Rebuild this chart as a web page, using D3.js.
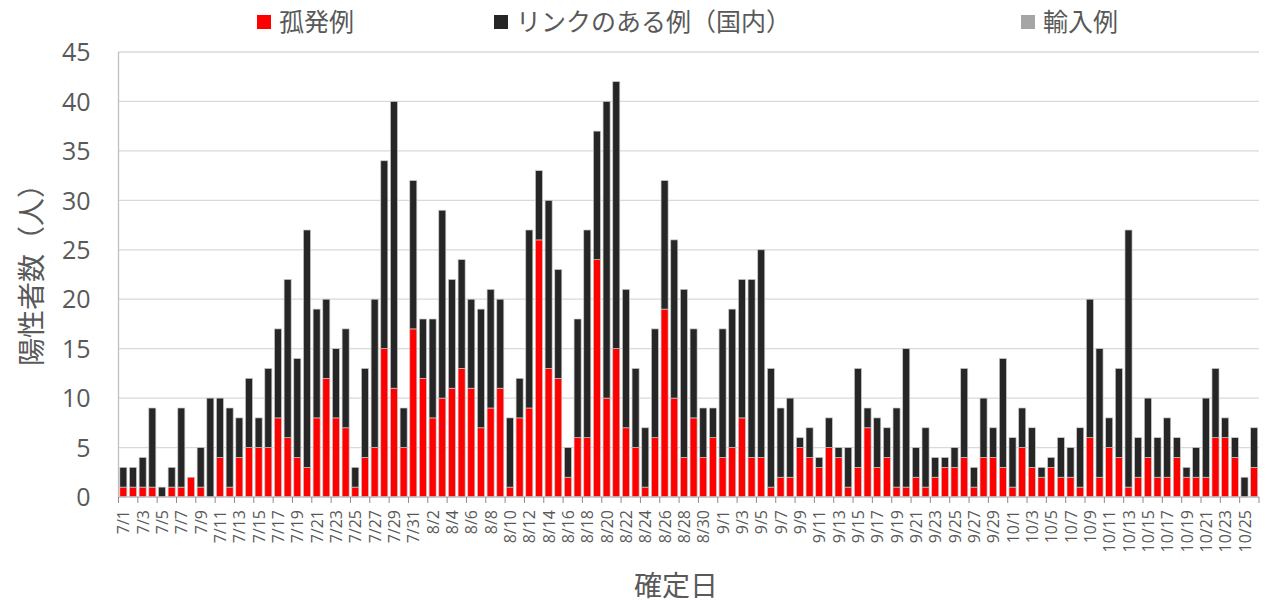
<!DOCTYPE html>
<html><head><meta charset="utf-8">
<script src="https://cdn.jsdelivr.net/npm/d3@7"></script>
<style>
html,body{margin:0;padding:0;background:#fff;}
svg{display:block;}
text{font-family:"Noto Sans CJK JP","Noto Sans",sans-serif;fill:#595959;}
</style></head>
<body>
<svg id="chart" width="1267" height="605"></svg>
<script>
const dates = ["7/1","7/2","7/3","7/4","7/5","7/6","7/7","7/8","7/9","7/10","7/11","7/12","7/13","7/14","7/15","7/16","7/17","7/18","7/19","7/20","7/21","7/22","7/23","7/24","7/25","7/26","7/27","7/28","7/29","7/30","7/31",
"8/1","8/2","8/3","8/4","8/5","8/6","8/7","8/8","8/9","8/10","8/11","8/12","8/13","8/14","8/15","8/16","8/17","8/18","8/19","8/20","8/21","8/22","8/23","8/24","8/25","8/26","8/27","8/28","8/29","8/30","8/31",
"9/1","9/2","9/3","9/4","9/5","9/6","9/7","9/8","9/9","9/10","9/11","9/12","9/13","9/14","9/15","9/16","9/17","9/18","9/19","9/20","9/21","9/22","9/23","9/24","9/25","9/26","9/27","9/28","9/29","9/30",
"10/1","10/2","10/3","10/4","10/5","10/6","10/7","10/8","10/9","10/10","10/11","10/12","10/13","10/14","10/15","10/16","10/17","10/18","10/19","10/20","10/21","10/22","10/23","10/24","10/25","10/26"];

const isolated = [1,1,1,1,0,1,1,2,1,0,4,1,4,5,5,5,8,6,4,3,8,12,8,7,1,4,5,15,11,5,17,
12,8,10,11,13,11,7,9,11,1,8,9,26,13,12,2,6,6,24,10,15,7,5,1,6,19,10,4,8,4,6,
4,5,8,4,4,1,2,2,5,4,3,5,4,1,3,7,3,4,1,1,2,1,2,3,3,4,1,4,4,3,
1,5,3,2,3,2,2,1,6,2,5,4,1,2,4,2,2,4,2,2,2,6,6,4,0,3];

const linked = [2,2,3,8,1,2,8,0,4,10,6,8,4,7,3,8,9,16,10,24,11,8,7,10,2,9,15,19,29,4,15,
6,10,19,11,11,9,12,12,9,7,4,18,7,17,11,3,12,21,13,30,27,14,8,6,11,13,16,17,9,5,3,
13,14,14,18,21,12,7,8,1,3,1,3,1,4,10,2,5,3,8,14,3,6,2,1,2,9,2,6,3,11,
5,4,4,1,1,4,3,6,14,13,3,9,26,4,6,4,6,2,1,3,8,7,2,2,2,4];

const imported = dates.map(() => 0);

const seriesNames = ["孤発例","リンクのある例（国内）","輸入例"];
const seriesKeys = ["isolated","linked","imported"];
const colors = ["#ff0000","#262626","#a5a5a5"];
const yTicks = [0,5,10,15,20,25,30,35,40,45];

const rows = dates.map((d,i) => ({date:d, isolated:isolated[i], linked:linked[i], imported:imported[i]}));

const svg = d3.select("#chart");
const m = {left:118.5, right:1259, top:52, bottom:497};

const x = d3.scaleBand().domain(dates).range([m.left, m.right]).paddingInner(0.27).paddingOuter(0.135);
const y = d3.scaleLinear().domain([0,45]).range([m.bottom, m.top]);

// gridlines
svg.append("g").selectAll("line").data(yTicks.filter(t=>t>0)).join("line")
  .attr("x1", m.left).attr("x2", m.right)
  .attr("y1", d=>y(d)).attr("y2", d=>y(d))
  .attr("stroke", "#d9d9d9").attr("stroke-width", 1.3);

// stacked bars
const stack = d3.stack().keys(seriesKeys)(rows);
svg.append("g").selectAll("g").data(stack).join("g")
  .attr("fill", (d,i)=>colors[i])
  .selectAll("rect").data(d=>d.filter(p=>p[1]-p[0]>0)).join("rect")
  .attr("x", d=>x(d.data.date))
  .attr("width", x.bandwidth())
  .attr("y", d=>y(d[1]))
  .attr("height", d=>y(d[0])-y(d[1]))
  .attr("stroke", "#c8c8c8").attr("stroke-width", 0.7);

// y axis line
svg.append("line").attr("x1", m.left).attr("x2", m.left).attr("y1", m.top).attr("y2", m.bottom)
  .attr("stroke", "#bfbfbf").attr("stroke-width", 1.3);
// x axis line
svg.append("line").attr("x1", m.left).attr("x2", m.right).attr("y1", m.bottom).attr("y2", m.bottom)
  .attr("stroke", "#bfbfbf").attr("stroke-width", 1.3);

// y tick labels
const yAxis = d3.axisLeft(y).tickValues(yTicks).tickSize(0).tickPadding(28);
const yg = svg.append("g").attr("transform", `translate(${m.left},0)`).call(yAxis);
yg.select(".domain").remove();
yg.selectAll("text").style("font-family","'Open Sans','Noto Sans',sans-serif").style("font-size","25px").attr("fill","#404040").attr("dy","0.35em");

// x ticks: every 2 categories at boundaries
const step = x.step();
const tickIdx = d3.range(0, dates.length+1, 2);
svg.append("g").selectAll("line").data(tickIdx).join("line")
  .attr("x1", i => m.left + i*step).attr("x2", i => m.left + i*step)
  .attr("y1", m.bottom).attr("y2", m.bottom+6)
  .attr("stroke", "#8c8c8c").attr("stroke-width", 1);
// x labels (every other date)
svg.append("g").selectAll("text").data(dates.filter((d,i)=>i%2===0)).join("text")
  .attr("transform", d => `translate(${x(d)+x.bandwidth()/2+6},510) rotate(-90)`)
  .attr("text-anchor","end")
  .style("font-family","'Open Sans','Noto Sans',sans-serif")
  .style("font-size","16px").attr("fill","#404040")
  .text(d=>d);

// axis titles
svg.append("text").attr("transform","translate(42,268) rotate(-90)").attr("text-anchor","middle")
  .style("font-size","28px").text("陽性者数（人）");
svg.append("text").attr("x", 676).attr("y", 596).attr("text-anchor","middle")
  .style("font-size","28px").text("確定日");

// legend
const legendX = [257, 494, 1021];
const lg = svg.append("g").selectAll("g").data(seriesNames).join("g")
  .attr("transform", (d,i)=>`translate(${legendX[i]},0)`);
lg.append("rect").attr("x",0).attr("y",15).attr("width",14).attr("height",14)
  .attr("fill",(d,i)=>colors[i]);
lg.append("text").attr("x",22).attr("y",31).style("font-size","25px").text(d=>d);
</script>
</body></html>
